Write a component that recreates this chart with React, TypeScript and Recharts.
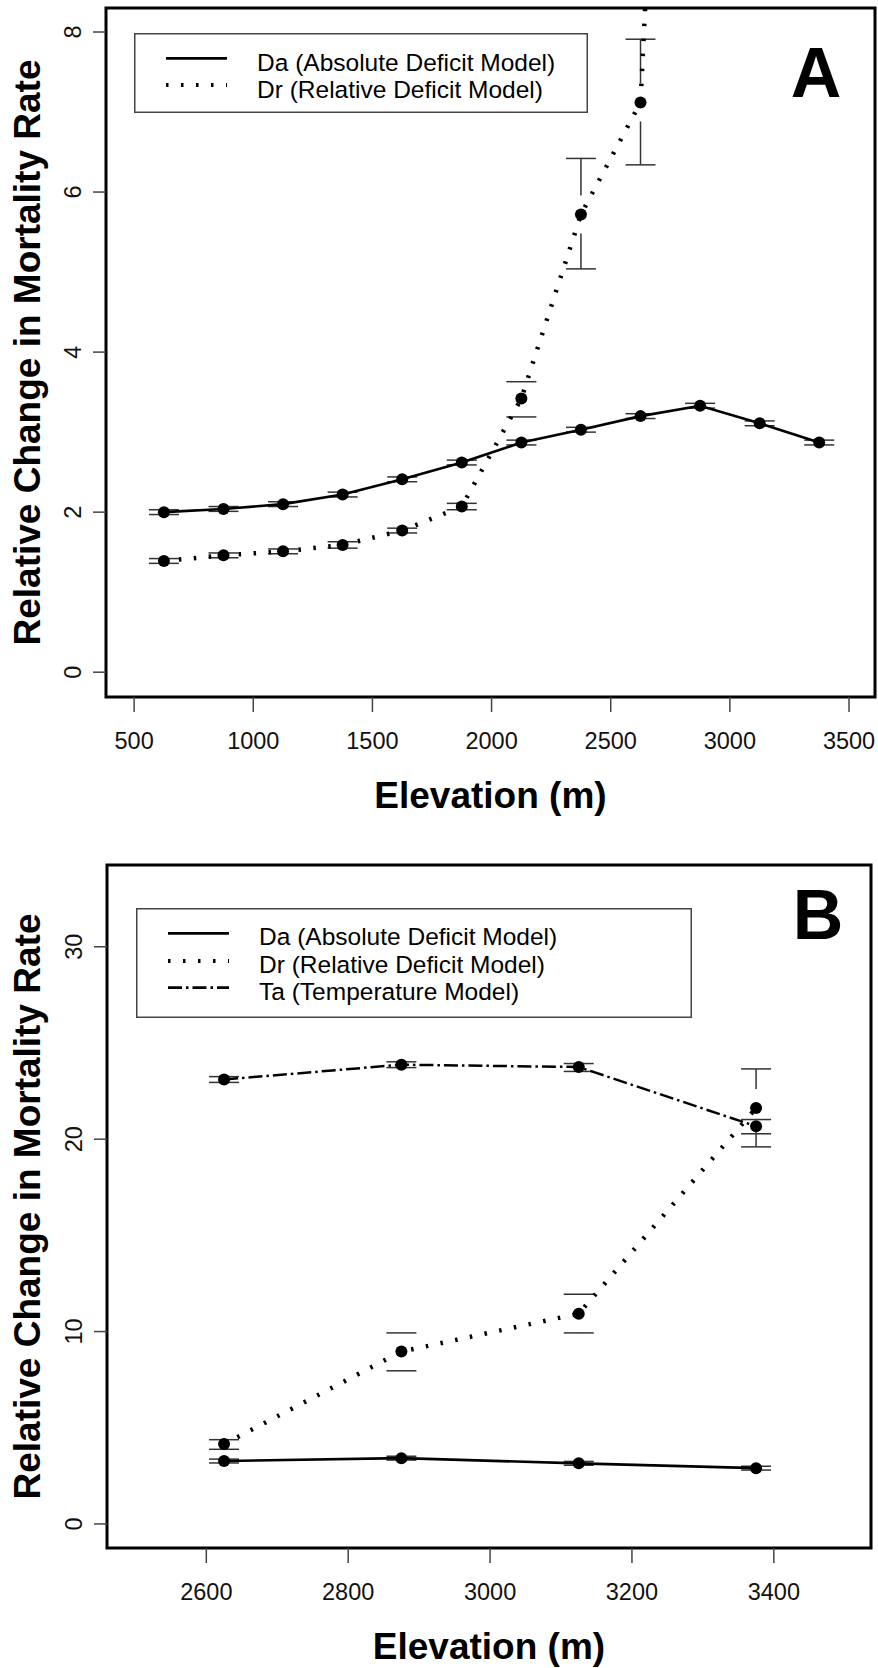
import React from "react";
import {
  LineChart,
  Line,
  XAxis,
  YAxis,
  ReferenceArea,
  ReferenceLine,
  Legend,
  Label,
} from "recharts";

// Panel A: all elevation bands
const elevA = [625, 875, 1125, 1375, 1625, 1875, 2125, 2375, 2625, 2875, 3125, 3375];
const daA = [2.0, 2.04, 2.1, 2.22, 2.41, 2.62, 2.87, 3.03, 3.2, 3.33, 3.11, 2.87];
const daLoA = [1.97, 2.01, 2.07, 2.19, 2.38, 2.59, 2.84, 3.0, 3.17, 3.3, 3.08, 2.84];
const daHiA = [2.03, 2.07, 2.13, 2.25, 2.44, 2.65, 2.9, 3.06, 3.23, 3.36, 3.14, 2.9];
const drA = [1.39, 1.46, 1.51, 1.59, 1.77, 2.07, 3.42, 5.72, 7.12, 22.3];
const drLoA = [1.36, 1.43, 1.48, 1.55, 1.74, 2.03, 3.19, 5.04, 6.34];
const drHiA = [1.42, 1.49, 1.54, 1.63, 1.8, 2.11, 3.63, 6.42, 7.91];
const xTicksA = [500, 1000, 1500, 2000, 2500, 3000, 3500];
const yTicksA = [0, 2, 4, 6, 8];

// Panel B: high elevation bands
const elevB = [2625, 2875, 3125, 3375];
const daB = [3.27, 3.42, 3.15, 2.9];
const daLoB = [3.17, 3.32, 3.05, 2.8];
const daHiB = [3.37, 3.52, 3.25, 3.0];
const drB = [4.15, 8.96, 10.93, 21.62];
const drLoB = [3.88, 7.96, 9.93, 19.6];
const drHiB = [4.38, 9.93, 11.94, 23.65];
const taB = [23.1, 23.87, 23.75, 20.67];
const taLoB = [22.95, 23.72, 23.52, 20.28];
const taHiB = [23.25, 24.02, 23.93, 21.02];
const xTicksB = [2600, 2800, 3000, 3200, 3400];
const yTicksB = [0, 10, 20, 30];

const rowsA = elevA.map((elev, i) => ({ elev, da: daA[i], dr: drA[i] ?? null }));
const rowsB = elevB.map((elev, i) => ({ elev, da: daB[i], dr: drB[i], ta: taB[i] }));

// plot geometry (plot-area size and axis domains)
const xDomA: [number, number] = [382, 3609];
const yDomA: [number, number] = [-0.31, 8.3];
const plotA = { w: 769, h: 689 };
const xDomB: [number, number] = [2460, 3537];
const yDomB: [number, number] = [-1.25, 34.25];
const plotB = { w: 764, h: 683 };

const GAP_PX = 19; // plotCI-style gap around each point
const CAP_PX = 15;

type Pt = { x: number; y: number };
type Seg = { key: string; pts: [Pt, Pt] };

// error bars with a gap around the point, like gplots::plotCI
function ciSegments(
  id: string,
  xs: number[],
  vs: number[],
  los: number[],
  his: number[],
  xDom: [number, number],
  yDom: [number, number],
  plot: { w: number; h: number }
): Seg[] {
  const gap = (GAP_PX * (yDom[1] - yDom[0])) / plot.h;
  const cap = (CAP_PX * (xDom[1] - xDom[0])) / plot.w;
  const out: Seg[] = [];
  los.forEach((lo, i) => {
    const x = xs[i];
    const v = vs[i];
    const hi = his[i];
    out.push({ key: `${id}lc${i}`, pts: [{ x: x - cap, y: lo }, { x: x + cap, y: lo }] });
    out.push({ key: `${id}hc${i}`, pts: [{ x: x - cap, y: hi }, { x: x + cap, y: hi }] });
    if (lo < v - gap) out.push({ key: `${id}lv${i}`, pts: [{ x, y: lo }, { x, y: v - gap }] });
    if (hi > v + gap) out.push({ key: `${id}hv${i}`, pts: [{ x, y: v + gap }, { x, y: hi }] });
  });
  return out;
}

const segsA = [
  ...ciSegments("da", elevA, daA, daLoA, daHiA, xDomA, yDomA, plotA),
  ...ciSegments("dr", elevA, drA, drLoA, drHiA, xDomA, yDomA, plotA),
];
const segsB = [
  ...ciSegments("da", elevB, daB, daLoB, daHiB, xDomB, yDomB, plotB),
  ...ciSegments("dr", elevB, drB, drLoB, drHiB, xDomB, yDomB, plotB),
  ...ciSegments("ta", elevB, taB, taLoB, taHiB, xDomB, yDomB, plotB),
];

const seriesStyle: Record<string, { dash?: string; width: number; legendWidth: number }> = {
  da: { width: 2.6, legendWidth: 2.8 },
  dr: { dash: "2.5 12.5", width: 4.5, legendWidth: 4 },
  ta: { dash: "14 4 2.5 4", width: 2.5, legendWidth: 2.8 },
};

const FONT = "Arial, 'Liberation Sans', Helvetica, sans-serif";
const dotStyle = { r: 6, fill: "#000", stroke: "#000", strokeWidth: 0 };

const XTick = ({ x, y, payload }: any) => (
  <text x={x} y={y + 35} textAnchor="middle" fontSize={23.5} fill="#111">
    {payload.value}
  </text>
);

const YTick = ({ x, y, payload }: any) => (
  <text
    transform={`translate(${x - 10},${y}) rotate(-90)`}
    textAnchor="middle"
    fontSize={23.5}
    fill="#111"
  >
    {payload.value}
  </text>
);

const LegendBox = ({ payload, w, h, rows, texts }: any) => (
  <svg width={w} height={h} style={{ display: "block", background: "#fff" }}>
    <rect x={0.75} y={0.75} width={w - 1.5} height={h - 1.5} fill="#fff" stroke="#444" strokeWidth={1.5} />
    {(payload || []).map((entry: any, i: number) => {
      const st = seriesStyle[entry.dataKey] || seriesStyle.da;
      return (
        <g key={entry.dataKey}>
          <line
            x1={32}
            x2={93}
            y1={rows[i]}
            y2={rows[i]}
            stroke="#000"
            strokeWidth={st.legendWidth}
            strokeDasharray={st.dash}
          />
          <text x={123} y={texts[i]} fontSize={24.5} fill="#000">
            {entry.value}
          </text>
        </g>
      );
    })}
  </svg>
);

const yTitle = (props: any) => {
  const vb = props.viewBox || { x: 0, y: 0, height: 0 };
  return (
    <text
      transform={`translate(${vb.x + 40},${vb.y + vb.height / 2}) rotate(-90)`}
      textAnchor="middle"
      fontSize={37}
      fontWeight="bold"
      fill="#000"
    >
      Relative Change in Mortality Rate
    </text>
  );
};

const xTitle = (props: any) => {
  const vb = props.viewBox || { x: 0, y: 0, width: 0 };
  return (
    <text x={vb.x + vb.width / 2} y={vb.y + 111} textAnchor="middle" fontSize={37} fontWeight="bold" fill="#000">
      Elevation (m)
    </text>
  );
};

const panelLetter = (letter: string, right: number, base: number) => (props: any) => {
  const vb = props.viewBox || { x: 0, y: 0, width: 0 };
  return (
    <text x={vb.x + vb.width - right} y={vb.y + base} textAnchor="middle" fontSize={70} fontWeight="bold" fill="#000">
      {letter}
    </text>
  );
};

const tickLine = { stroke: "#444", strokeWidth: 1.5 };

export default function App() {
  return (
    <div style={{ position: "relative", width: 878, height: 1668, background: "#fff", fontFamily: FONT }}>
      <style>{`body{margin:0;background:#fff}`}</style>

      <div style={{ position: "absolute", left: 0, top: 0 }}>
        <LineChart width={878} height={850} data={rowsA} margin={{ top: 8, right: 3, left: 0, bottom: 0 }}>
          <XAxis
            type="number"
            dataKey="elev"
            domain={xDomA}
            ticks={xTicksA}
            interval={0}
            allowDataOverflow
            axisLine={false}
            tickLine={tickLine}
            tickSize={15}
            tick={<XTick />}
            height={850 - 8 - plotA.h}
          >
            <Label content={xTitle} />
          </XAxis>
          <YAxis
            type="number"
            domain={yDomA}
            ticks={yTicksA}
            interval={0}
            allowDataOverflow
            axisLine={false}
            tickLine={tickLine}
            tickSize={13}
            tick={<YTick />}
            width={878 - 3 - plotA.w}
          >
            <Label content={yTitle} />
          </YAxis>
          <Legend
            layout="vertical"
            align="center"
            verticalAlign="middle"
            wrapperStyle={{ left: 134, top: 33, width: 454, height: 80 }}
            content={(p: any) => <LegendBox {...p} w={454} h={80} rows={[25.3, 52]} texts={[37.5, 64.5]} />}
          />
          {segsA.map((s) => (
            <ReferenceLine key={s.key} segment={s.pts} stroke="#333" strokeWidth={1.5} ifOverflow="visible" />
          ))}
          <Line
            dataKey="da"
            name="Da (Absolute Deficit Model)"
            stroke="#000"
            strokeWidth={seriesStyle.da.width}
            dot={dotStyle}
            activeDot={false}
            isAnimationActive={false}
          />
          <Line
            dataKey="dr"
            name="Dr (Relative Deficit Model)"
            stroke="#000"
            strokeWidth={seriesStyle.dr.width}
            strokeDasharray={seriesStyle.dr.dash}
            dot={dotStyle}
            activeDot={false}
            isAnimationActive={false}
          />
          <ReferenceArea
            x1={xDomA[0]}
            x2={xDomA[1]}
            y1={yDomA[0]}
            y2={yDomA[1]}
            fill="none"
            stroke="#000"
            strokeWidth={3}
            ifOverflow="visible"
          >
            <Label content={panelLetter("A", 59, 89)} />
          </ReferenceArea>
        </LineChart>
      </div>

      <div style={{ position: "absolute", left: 0, top: 850 }}>
        <LineChart width={878} height={818} data={rowsB} margin={{ top: 15, right: 7, left: 0, bottom: 0 }}>
          <XAxis
            type="number"
            dataKey="elev"
            domain={xDomB}
            ticks={xTicksB}
            interval={0}
            allowDataOverflow
            axisLine={false}
            tickLine={tickLine}
            tickSize={15}
            tick={<XTick />}
            height={818 - 15 - plotB.h}
          >
            <Label content={xTitle} />
          </XAxis>
          <YAxis
            type="number"
            domain={yDomB}
            ticks={yTicksB}
            interval={0}
            allowDataOverflow
            axisLine={false}
            tickLine={tickLine}
            tickSize={13}
            tick={<YTick />}
            width={878 - 7 - plotB.w}
          >
            <Label content={yTitle} />
          </YAxis>
          <Legend
            layout="vertical"
            align="center"
            verticalAlign="middle"
            wrapperStyle={{ left: 136, top: 58, width: 556, height: 110 }}
            content={(p: any) => <LegendBox {...p} w={556} h={110} rows={[25.3, 53, 79.7]} texts={[37, 65, 92]} />}
          />
          {segsB.map((s) => (
            <ReferenceLine key={s.key} segment={s.pts} stroke="#333" strokeWidth={1.5} ifOverflow="visible" />
          ))}
          <Line
            dataKey="da"
            name="Da (Absolute Deficit Model)"
            stroke="#000"
            strokeWidth={seriesStyle.da.width}
            dot={dotStyle}
            activeDot={false}
            isAnimationActive={false}
          />
          <Line
            dataKey="dr"
            name="Dr (Relative Deficit Model)"
            stroke="#000"
            strokeWidth={seriesStyle.dr.width}
            strokeDasharray={seriesStyle.dr.dash}
            dot={dotStyle}
            activeDot={false}
            isAnimationActive={false}
          />
          <Line
            dataKey="ta"
            name="Ta (Temperature Model)"
            stroke="#000"
            strokeWidth={seriesStyle.ta.width}
            strokeDasharray={seriesStyle.ta.dash}
            dot={dotStyle}
            activeDot={false}
            isAnimationActive={false}
          />
          <ReferenceArea
            x1={xDomB[0]}
            x2={xDomB[1]}
            y1={yDomB[0]}
            y2={yDomB[1]}
            fill="none"
            stroke="#000"
            strokeWidth={3}
            ifOverflow="visible"
          >
            <Label content={panelLetter("B", 53, 74)} />
          </ReferenceArea>
        </LineChart>
      </div>
    </div>
  );
}
